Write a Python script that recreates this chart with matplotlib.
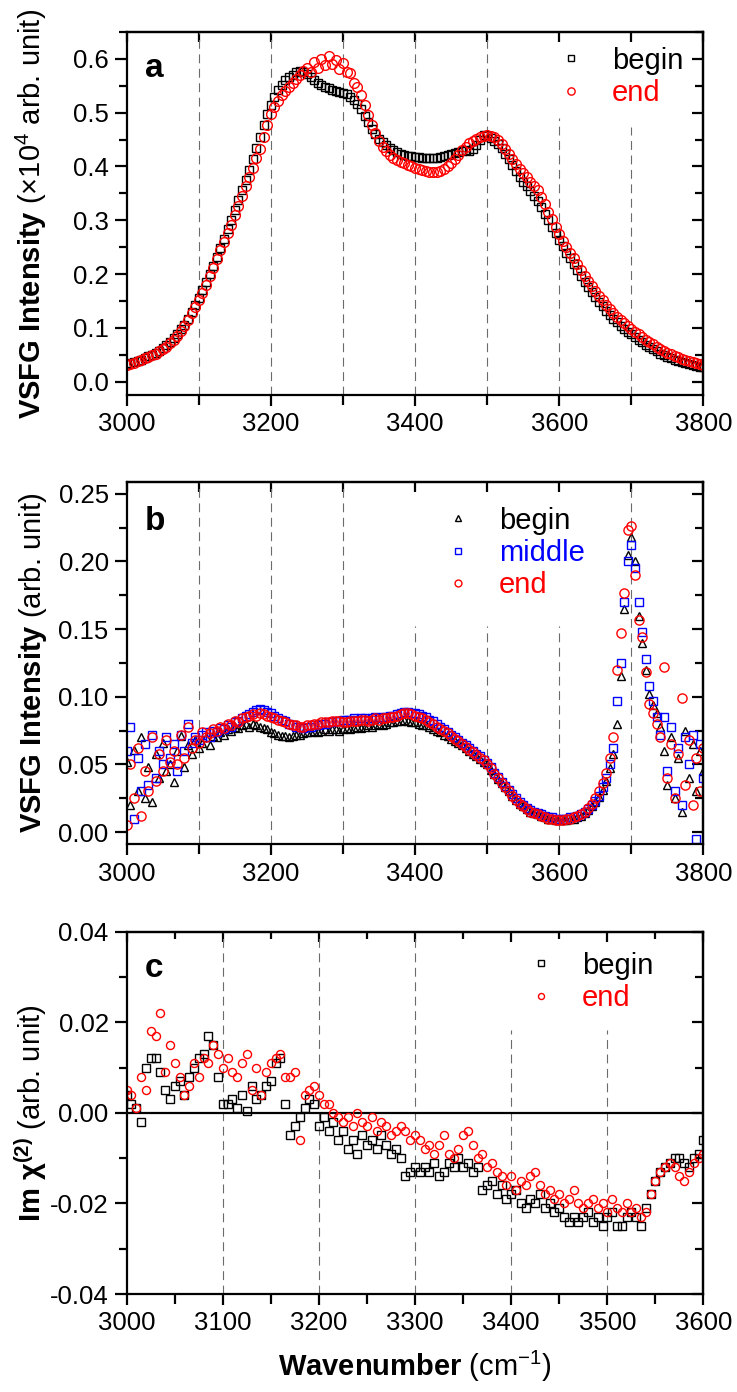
import numpy as np
import matplotlib
matplotlib.use('Agg')
import matplotlib.pyplot as plt
from matplotlib.ticker import MultipleLocator, FormatStrFormatter

plt.rcParams['font.family'] = ['Liberation Sans', 'DejaVu Sans']
plt.rcParams['mathtext.fontset'] = 'custom'
plt.rcParams['mathtext.rm'] = 'Liberation Sans'
plt.rcParams['mathtext.bf'] = 'Liberation Sans:bold'
plt.rcParams['mathtext.it'] = 'Liberation Sans:italic'
plt.rcParams['mathtext.sf'] = 'Liberation Sans'
plt.rcParams['axes.unicode_minus'] = False

# ---- panel a : VSFG intensity (x1e4), 3000-3800 cm-1 ----
wn_a = np.arange(3000, 3801, 5)
a_begin = [
    0.032, 0.034, 0.036, 0.038, 0.041, 0.044, 0.047, 0.050, 0.053, 0.057,
    0.062, 0.068, 0.074, 0.081, 0.089, 0.097, 0.106, 0.117, 0.129, 0.142,
    0.156, 0.170, 0.185, 0.200, 0.215, 0.231, 0.248, 0.265, 0.283, 0.301,
    0.319, 0.337, 0.356, 0.375, 0.394, 0.414, 0.434, 0.455, 0.477, 0.497,
    0.515, 0.530, 0.543, 0.552, 0.560, 0.566, 0.571, 0.575, 0.578, 0.576,
    0.572, 0.566, 0.560, 0.555, 0.551, 0.548, 0.545, 0.543, 0.541, 0.539,
    0.537, 0.534, 0.530, 0.524, 0.516, 0.506, 0.494, 0.482, 0.470, 0.460,
    0.452, 0.445, 0.439, 0.434, 0.430, 0.427, 0.424, 0.422, 0.420, 0.419,
    0.418, 0.417, 0.416, 0.415, 0.415, 0.415, 0.416, 0.417, 0.419, 0.421,
    0.423, 0.425, 0.427, 0.429, 0.430, 0.428, 0.432, 0.440, 0.450, 0.458,
    0.456, 0.453, 0.448, 0.442, 0.434, 0.424, 0.413, 0.402, 0.391, 0.381,
    0.372, 0.363, 0.355, 0.345, 0.335, 0.324, 0.312, 0.300, 0.288, 0.276,
    0.264, 0.252, 0.240, 0.229, 0.218, 0.207, 0.196, 0.186, 0.176, 0.166,
    0.157, 0.148, 0.140, 0.132, 0.124, 0.117, 0.110, 0.104, 0.098, 0.093,
    0.088, 0.083, 0.078, 0.073, 0.068, 0.064, 0.060, 0.056, 0.052, 0.049,
    0.046, 0.043, 0.040, 0.038, 0.036, 0.034, 0.032, 0.030, 0.029, 0.028,
    0.027]
a_end = [
    0.030, 0.032, 0.035, 0.038, 0.041, 0.043, 0.046, 0.049, 0.052, 0.056,
    0.060, 0.065, 0.071, 0.078, 0.085, 0.094, 0.104, 0.115, 0.127, 0.139,
    0.151, 0.165, 0.180, 0.196, 0.212, 0.228, 0.244, 0.260, 0.276, 0.292,
    0.309, 0.327, 0.345, 0.363, 0.380, 0.398, 0.415, 0.432, 0.455, 0.478,
    0.497, 0.510, 0.522, 0.532, 0.540, 0.548, 0.556, 0.563, 0.570, 0.578,
    0.584, 0.575, 0.595, 0.583, 0.600, 0.588, 0.606, 0.590, 0.598, 0.582,
    0.592, 0.576, 0.573, 0.556, 0.548, 0.532, 0.514, 0.496, 0.478, 0.462,
    0.448, 0.437, 0.428, 0.421, 0.416, 0.412, 0.409, 0.406, 0.403, 0.400,
    0.398, 0.396, 0.394, 0.392, 0.390, 0.389, 0.390, 0.392, 0.396, 0.401,
    0.407, 0.414, 0.422, 0.430, 0.437, 0.443, 0.448, 0.452, 0.455, 0.457,
    0.458, 0.457, 0.454, 0.449, 0.442, 0.433, 0.423, 0.413, 0.404, 0.396,
    0.388, 0.380, 0.372, 0.364, 0.356, 0.343, 0.330, 0.316, 0.302, 0.288,
    0.274, 0.262, 0.251, 0.240, 0.229, 0.218, 0.207, 0.197, 0.187, 0.177,
    0.168, 0.159, 0.151, 0.143, 0.135, 0.128, 0.121, 0.115, 0.109, 0.103,
    0.098, 0.093, 0.088, 0.083, 0.078, 0.073, 0.069, 0.065, 0.061, 0.057,
    0.054, 0.051, 0.048, 0.045, 0.042, 0.040, 0.038, 0.036, 0.034, 0.032,
    0.031]

# ---- panel b : VSFG intensity, 3000-3800 cm-1 ----
wn_b = np.arange(3000, 3801, 5)
b_begin = [
    0.052, 0.020, 0.061, 0.030, 0.070, 0.025, 0.048, 0.022, 0.058, 0.040, 0.066, 0.045, 0.050,
    0.037, 0.060, 0.071, 0.048, 0.064, 0.058, 0.068, 0.062, 0.066, 0.070, 0.064, 0.071,
    0.070, 0.074, 0.072, 0.076, 0.075, 0.078, 0.077, 0.079, 0.080, 0.078, 0.080, 0.079, 0.078, 0.077, 0.076, 0.074,
    0.073, 0.072, 0.071, 0.071, 0.070, 0.071, 0.072, 0.072, 0.073, 0.074,
    0.074, 0.075, 0.074, 0.075, 0.076, 0.075, 0.076, 0.076, 0.075, 0.076,
    0.077, 0.076, 0.077, 0.078, 0.077, 0.078, 0.079, 0.078, 0.079, 0.080,
    0.079, 0.080, 0.081, 0.081, 0.082, 0.082, 0.083, 0.082, 0.081, 0.081,
    0.080, 0.079, 0.079, 0.078, 0.076, 0.075, 0.074, 0.072, 0.071, 0.069,
    0.067, 0.066, 0.064, 0.062, 0.060, 0.058, 0.056, 0.054, 0.052, 0.050,
    0.046, 0.043, 0.039, 0.036, 0.033, 0.030, 0.027, 0.024, 0.021, 0.019,
    0.017, 0.015, 0.014, 0.013, 0.012, 0.011, 0.010, 0.010, 0.009, 0.009,
    0.009, 0.009, 0.010, 0.010, 0.011, 0.012, 0.014, 0.016, 0.019, 0.022,
    0.026, 0.031, 0.038, 0.047, 0.058, 0.080, 0.115, 0.165, 0.205, 0.218,
    0.200, 0.160, 0.140, 0.120, 0.102, 0.094, 0.088, 0.078, 0.060, 0.035,
    0.070, 0.025, 0.055, 0.015, 0.075, 0.040, 0.065, 0.030, 0.060, 0.045]
b_middle = [
    0.060, 0.078, 0.010, 0.055, 0.030, 0.065, 0.035, 0.072, 0.040, 0.060, 0.050, 0.070, 0.055,
    0.065, 0.045, 0.072, 0.060, 0.080, 0.066, 0.070, 0.068, 0.072, 0.074, 0.070, 0.075,
    0.074, 0.077, 0.076, 0.079, 0.078, 0.081, 0.082, 0.084, 0.086, 0.087, 0.089, 0.090, 0.091, 0.090, 0.089, 0.088,
    0.086, 0.084, 0.083, 0.082, 0.080, 0.079, 0.078, 0.078, 0.077, 0.078,
    0.078, 0.079, 0.079, 0.080, 0.080, 0.081, 0.081, 0.082, 0.082, 0.083,
    0.083, 0.083, 0.084, 0.083, 0.084, 0.084, 0.083, 0.084, 0.085, 0.084,
    0.085, 0.085, 0.086, 0.086, 0.087, 0.088, 0.089, 0.089, 0.088, 0.088,
    0.087, 0.086, 0.085, 0.083, 0.082, 0.080, 0.078, 0.076, 0.074, 0.072,
    0.070, 0.068, 0.066, 0.064, 0.062, 0.060, 0.058, 0.056, 0.053, 0.051,
    0.048, 0.044, 0.041, 0.037, 0.034, 0.031, 0.028, 0.025, 0.022, 0.020,
    0.018, 0.016, 0.015, 0.014, 0.013, 0.012, 0.011, 0.011, 0.010, 0.010,
    0.010, 0.010, 0.011, 0.011, 0.012, 0.013, 0.015, 0.017, 0.020, 0.023,
    0.027, 0.033, 0.040, 0.050, 0.062, 0.097, 0.125, 0.170, 0.200, 0.212,
    0.195, 0.170, 0.148, 0.128, 0.108, 0.097, 0.085, 0.072, 0.085, 0.045,
    0.078, 0.030, 0.062, 0.020, 0.070, 0.050, 0.072, -0.005, 0.065, 0.040]
b_end = [
    0.005, 0.050, 0.025, 0.062, 0.012, 0.045, 0.030, 0.070, 0.038, 0.058, 0.045, 0.068, 0.052,
    0.060, 0.050, 0.072, 0.055, 0.078, 0.062, 0.068, 0.066, 0.074, 0.070, 0.073, 0.076,
    0.075, 0.078, 0.077, 0.080, 0.079, 0.082, 0.081, 0.084, 0.085, 0.086, 0.087, 0.086, 0.088, 0.087, 0.086, 0.085,
    0.084, 0.083, 0.082, 0.081, 0.080, 0.079, 0.079, 0.078, 0.078, 0.079,
    0.079, 0.080, 0.080, 0.081, 0.081, 0.081, 0.082, 0.082, 0.082, 0.081,
    0.081, 0.082, 0.082, 0.082, 0.083, 0.083, 0.082, 0.083, 0.084, 0.083,
    0.084, 0.084, 0.085, 0.085, 0.086, 0.087, 0.088, 0.088, 0.087, 0.086,
    0.085, 0.084, 0.083, 0.081, 0.080, 0.078, 0.076, 0.075, 0.073, 0.071,
    0.069, 0.067, 0.065, 0.063, 0.061, 0.059, 0.057, 0.055, 0.053, 0.050,
    0.047, 0.043, 0.040, 0.036, 0.033, 0.030, 0.027, 0.024, 0.021, 0.019,
    0.017, 0.015, 0.014, 0.013, 0.012, 0.011, 0.010, 0.010, 0.009, 0.009,
    0.009, 0.010, 0.010, 0.011, 0.012, 0.013, 0.015, 0.018, 0.021, 0.025,
    0.030, 0.036, 0.044, 0.055, 0.070, 0.120, 0.147, 0.177, 0.223, 0.226,
    0.190, 0.157, 0.144, 0.118, 0.095, 0.088, 0.080, 0.070, 0.122, 0.040,
    0.065, 0.025, 0.058, 0.099, 0.035, 0.068, 0.020, 0.055, 0.030, 0.062]

# ---- panel c : Im chi(2), 3000-3600 cm-1 ----
wn_c = np.arange(3000, 3601, 5)
c_begin = [
    0.004, 0.002, 0.001, -0.002, 0.010, 0.012, 0.012, 0.009, 0.005, 0.003,
    0.006, 0.007, 0.004, 0.008, 0.010, 0.012, 0.013, 0.017, 0.015, 0.008,
    0.002, 0.002, 0.003, 0.001, 0.004, 0.0005, 0.006, 0.003, 0.004, 0.006,
    0.007, 0.011, 0.012, 0.002, -0.005, -0.003, -0.001, 0.001, 0.003, 0.002,
    -0.003, -0.001, -0.004, -0.002, -0.006, -0.004, -0.008, -0.006, -0.009, -0.005,
    -0.007, -0.006, -0.008, -0.005, -0.007, -0.009, -0.008, -0.010, -0.014, -0.013,
    -0.012, -0.013, -0.012, -0.013, -0.011, -0.014, -0.013, -0.011, -0.012, -0.010,
    -0.012, -0.011, -0.013, -0.012, -0.017, -0.016, -0.015, -0.018, -0.016, -0.019,
    -0.018, -0.017, -0.020, -0.021, -0.019, -0.020, -0.018, -0.021, -0.020, -0.022,
    -0.021, -0.023, -0.024, -0.023, -0.024, -0.023, -0.022, -0.024, -0.023, -0.025,
    -0.023, -0.022, -0.025, -0.025, -0.023, -0.022, -0.023, -0.025, -0.021, -0.018,
    -0.015, -0.013, -0.012, -0.011, -0.010, -0.010, -0.011, -0.012, -0.010, -0.009,
    -0.006]
c_end = [
    0.005, 0.004, 0.001, 0.008, 0.005, 0.018, 0.017, 0.022, 0.009, 0.015,
    0.011, 0.008, 0.004, 0.006, 0.011, 0.008, 0.012, 0.011, 0.015, 0.013,
    0.010, 0.012, 0.009, 0.008, 0.011, 0.013, 0.005, 0.010, 0.004, 0.009,
    0.011, 0.012, 0.013, 0.008, 0.008, 0.009, -0.006, 0.004, 0.005, 0.006,
    0.004, 0.002, 0.002, 0.000, -0.001, -0.002, -0.001, -0.003, 0.000, -0.002,
    -0.003, -0.001, -0.004, -0.002, -0.003, -0.005, -0.004, -0.003, -0.004, -0.006,
    -0.005, -0.006, -0.008, -0.007, -0.009, -0.007, -0.005, -0.009, -0.010, -0.008,
    -0.005, -0.004, -0.007, -0.010, -0.009, -0.012, -0.011, -0.013, -0.014, -0.016,
    -0.014, -0.017, -0.015, -0.016, -0.014, -0.013, -0.016, -0.018, -0.017, -0.019,
    -0.018, -0.020, -0.019, -0.017, -0.020, -0.021, -0.020, -0.019, -0.021, -0.020,
    -0.022, -0.019, -0.021, -0.022, -0.020, -0.022, -0.021, -0.023, -0.022, -0.018,
    -0.015, -0.013, -0.012, -0.011, -0.012, -0.014, -0.015, -0.013, -0.011, -0.010,
    -0.009]


def frame(ax, xstep, xminor, ystep, yminor, fmt, top_major, top_minor=None):
    for s in ax.spines.values():
        s.set_linewidth(1.6)
    ax.xaxis.set_major_locator(MultipleLocator(xstep))
    ax.xaxis.set_minor_locator(MultipleLocator(xminor))
    ax.yaxis.set_major_locator(MultipleLocator(ystep))
    ax.yaxis.set_minor_locator(MultipleLocator(yminor))
    ax.yaxis.set_major_formatter(FormatStrFormatter(fmt))
    ax.tick_params(which='both', direction='out', width=1.6, labelsize=18.5, pad=4.5)
    ax.tick_params(axis='y', which='major', length=8.5)
    ax.tick_params(axis='y', which='minor', length=5.8)
    ax.tick_params(axis='x', which='major', length=8.0)
    ax.tick_params(axis='x', which='minor', length=7.0)
    # mirrored axes with inward ticks
    top = ax.secondary_xaxis('top')
    top.xaxis.set_major_locator(MultipleLocator(top_major))
    if top_minor:
        top.xaxis.set_minor_locator(MultipleLocator(top_minor))
    top.tick_params(which='both', direction='in', width=1.6, labeltop=False)
    top.tick_params(which='major', length=7.5)
    top.tick_params(which='minor', length=5)
    top.spines['top'].set_linewidth(1.6)
    right = ax.secondary_yaxis('right')
    right.yaxis.set_major_locator(MultipleLocator(ystep))
    right.yaxis.set_minor_locator(MultipleLocator(yminor))
    right.tick_params(which='both', direction='in', width=1.6, labelright=False)
    right.tick_params(which='major', length=8)
    right.tick_params(which='minor', length=6)
    right.spines['right'].set_linewidth(1.6)


def guides(ax, full, partial, frac):
    for x in full:
        ax.axvline(x, color='0.42', lw=0.8, ls=(0, (8, 5)), zorder=0.5)
    for x, f in zip(partial, frac):
        ax.axvline(x, ymax=f, color='0.42', lw=0.8, ls=(0, (8, 5)), zorder=0.5)


def legend(ax, anchor):
    ax.legend(loc='upper left', bbox_to_anchor=anchor, frameon=False, fontsize=21,
              handlelength=1.0, handletextpad=0.9, labelspacing=0.15,
              borderpad=0, borderaxespad=0, markerscale=0.75,
              labelcolor='markeredgecolor')


fig = plt.figure(figsize=(7.37, 13.92), dpi=100)
ax_a = fig.add_axes([0.1719, 0.7162, 0.7826, 0.2608])
ax_b = fig.add_axes([0.1719, 0.3935, 0.7826, 0.2605])
ax_c = fig.add_axes([0.1719, 0.0704, 0.7826, 0.2603])

# a
guides(ax_a, [3100, 3200, 3300, 3400, 3500], [3600, 3700], [0.763, 0.738])
ax_a.plot(wn_a, a_begin, ls='none', marker='s', ms=5.8, mfc='none', mec='black', mew=1.0, label='begin')
ax_a.plot(wn_a, a_end, ls='none', marker='o', ms=7.0, mfc='none', mec='red', mew=1.0, label='end')
ax_a.set_xlim(3000, 3800)
ax_a.set_ylim(-0.025, 0.65)
frame(ax_a, 200, 100, 0.1, 0.05, '%.1f', 100)
ax_a.set_ylabel(r'$\mathbf{VSFG\ Intensity}$ (×10$^{4}$ arb. unit)', fontsize=21)
legend(ax_a, (0.745, 0.960))
ax_a.text(0.031, 0.875, 'a', transform=ax_a.transAxes, fontsize=24, fontweight='bold',
          ha='left', va='baseline')

# b
guides(ax_b, [3100, 3200, 3300, 3700], [3400, 3500, 3600], [0.602, 0.602, 0.602])
ax_b.plot(wn_b, b_begin, ls='none', marker='^', ms=6.3, mfc='none', mec='black', mew=1.0, label='begin')
ax_b.plot(wn_b, b_middle, ls='none', marker='s', ms=5.6, mfc='none', mec='blue', mew=1.0, label='middle')
ax_b.plot(wn_b, b_end, ls='none', marker='o', ms=6.6, mfc='none', mec='red', mew=1.0, label='end')
ax_b.set_xlim(3000, 3800)
ax_b.set_ylim(-0.009, 0.259)
frame(ax_b, 200, 100, 0.05, 0.025, '%.2f', 100)
ax_b.set_ylabel(r'$\mathbf{VSFG\ Intensity}$ (arb. unit)', fontsize=21)
legend(ax_b, (0.549, 0.931))
ax_b.text(0.031, 0.867, 'b', transform=ax_b.transAxes, fontsize=24, fontweight='bold',
          ha='left', va='baseline')

# c
guides(ax_c, [3100, 3200, 3300], [3400, 3500], [0.729, 0.729])
ax_c.axhline(0, color='black', lw=1.6, zorder=1)
ax_c.plot(wn_c, c_begin, ls='none', marker='s', ms=5.2, mfc='none', mec='black', mew=1.0, label='begin')
ax_c.plot(wn_c, c_end, ls='none', marker='o', ms=5.8, mfc='none', mec='red', mew=1.0, label='end')
ax_c.set_xlim(3000, 3600)
ax_c.set_ylim(-0.04, 0.04)
frame(ax_c, 100, 50, 0.02, 0.01, '%.2f', 100, 50)
ax_c.set_ylabel(r'$\mathbf{Im\ χ^{(2)}}$ (arb. unit)', fontsize=21)
ax_c.set_xlabel(r'$\mathbf{Wavenumber}$ (cm$^{-1}$)', fontsize=21)
legend(ax_c, (0.693, 0.945))
ax_c.text(0.031, 0.874, 'c', transform=ax_c.transAxes, fontsize=24, fontweight='bold',
          ha='left', va='baseline')

for ax in (ax_a, ax_b, ax_c):
    ax.yaxis.set_label_coords(-0.135, 0.5)
ax_c.xaxis.set_label_coords(0.5, -0.15)

fig.savefig('out.png', dpi=100)
